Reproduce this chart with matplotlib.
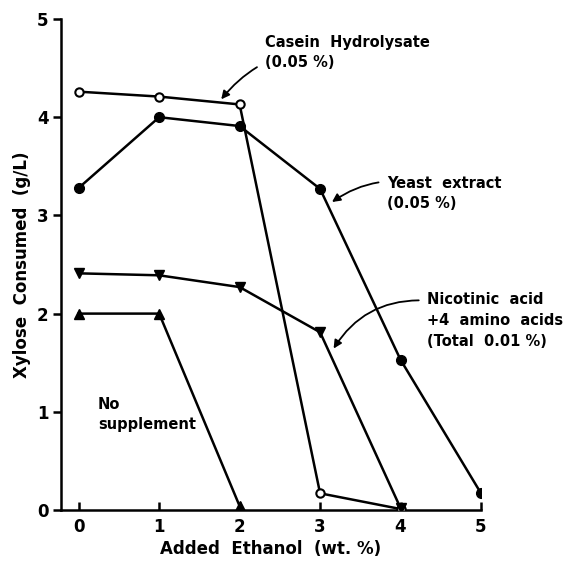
import matplotlib
matplotlib.use("Agg")
import matplotlib.pyplot as plt

# data
ethanol_casein = [0, 1, 2, 3, 4]
casein = [4.26, 4.21, 4.13, 0.17, 0.01]
ethanol_yeast = [0, 1, 2, 3, 4, 5]
yeast = [3.28, 4.00, 3.91, 3.27, 1.53, 0.17]
ethanol_nic = [0, 1, 2, 3, 4]
nicotinic = [2.41, 2.39, 2.27, 1.81, 0.02]
ethanol_none = [0, 1, 2]
no_supp = [2.00, 2.00, 0.04]

plt.rcParams["font.family"] = ["DejaVu Sans"]
plt.rcParams["font.weight"] = "bold"

fig = plt.figure(figsize=(5.72, 5.61), dpi=100)
ax = fig.add_axes([61 / 572, 1 - 510 / 561, 420 / 572, 491 / 561])

lw = 1.8
ax.plot(ethanol_casein, casein, "-o", color="black", lw=lw, ms=6,
        mfc="white", mec="black", mew=1.5, zorder=3)
ax.plot(ethanol_yeast, yeast, "-o", color="black", lw=lw, ms=7, zorder=3)
ax.plot(ethanol_nic, nicotinic, "-v", color="black", lw=lw, ms=7, zorder=3)
ax.plot(ethanol_none, no_supp, "-^", color="black", lw=lw, ms=7, zorder=3)

ax.set_xlim(-0.22, 5)
ax.set_ylim(0, 5)
ax.set_xticks([0, 1, 2, 3, 4, 5])
ax.set_yticks([0, 1, 2, 3, 4, 5])
ax.tick_params(axis="x", direction="in", length=6, width=1.8, labelsize=12, pad=6)
ax.tick_params(axis="y", direction="out", length=6, width=1.8, labelsize=12, pad=3)
ax.spines["top"].set_visible(False)
ax.spines["right"].set_visible(False)
for s in ("left", "bottom"):
    ax.spines[s].set_linewidth(1.8)
for lab in ax.get_xticklabels() + ax.get_yticklabels():
    lab.set_fontweight("bold")

ax.set_xlabel("Added  Ethanol  (wt. %)", fontsize=12, fontweight="bold", labelpad=3)
ax.set_ylabel("Xylose  Consumed  (g/L)", fontsize=12, fontweight="bold", labelpad=4)

arrow = dict(arrowstyle="-|>", color="black", lw=1.3, mutation_scale=12)
ax.annotate("Casein  Hydrolysate\n(0.05 %)", xy=(1.75, 4.16), xytext=(2.31, 4.66),
            fontsize=10.5, fontweight="bold", va="center", ha="left",
            linespacing=1.4,
            arrowprops=dict(connectionstyle="arc3,rad=0.3", shrinkA=4, **arrow))
ax.annotate("Yeast  extract\n(0.05 %)", xy=(3.12, 3.12), xytext=(3.83, 3.22),
            fontsize=10.5, fontweight="bold", va="center", ha="left",
            linespacing=1.4,
            arrowprops=dict(connectionstyle="arc3,rad=0.3", shrinkA=4, **arrow))
ax.annotate("Nicotinic  acid\n+4  amino  acids\n(Total  0.01 %)", xy=(3.15, 1.62),
            xytext=(4.33, 1.93), fontsize=10.5, fontweight="bold", va="center",
            ha="left", linespacing=1.5,
            arrowprops=dict(connectionstyle="arc3,rad=0.3", shrinkA=4,
                            relpos=(0, 0.85), **arrow))
ax.text(0.24, 1.15, "No\nsupplement", fontsize=10.5, fontweight="bold",
        va="top", ha="left", linespacing=1.4)

fig.savefig("out.png", dpi=100)
